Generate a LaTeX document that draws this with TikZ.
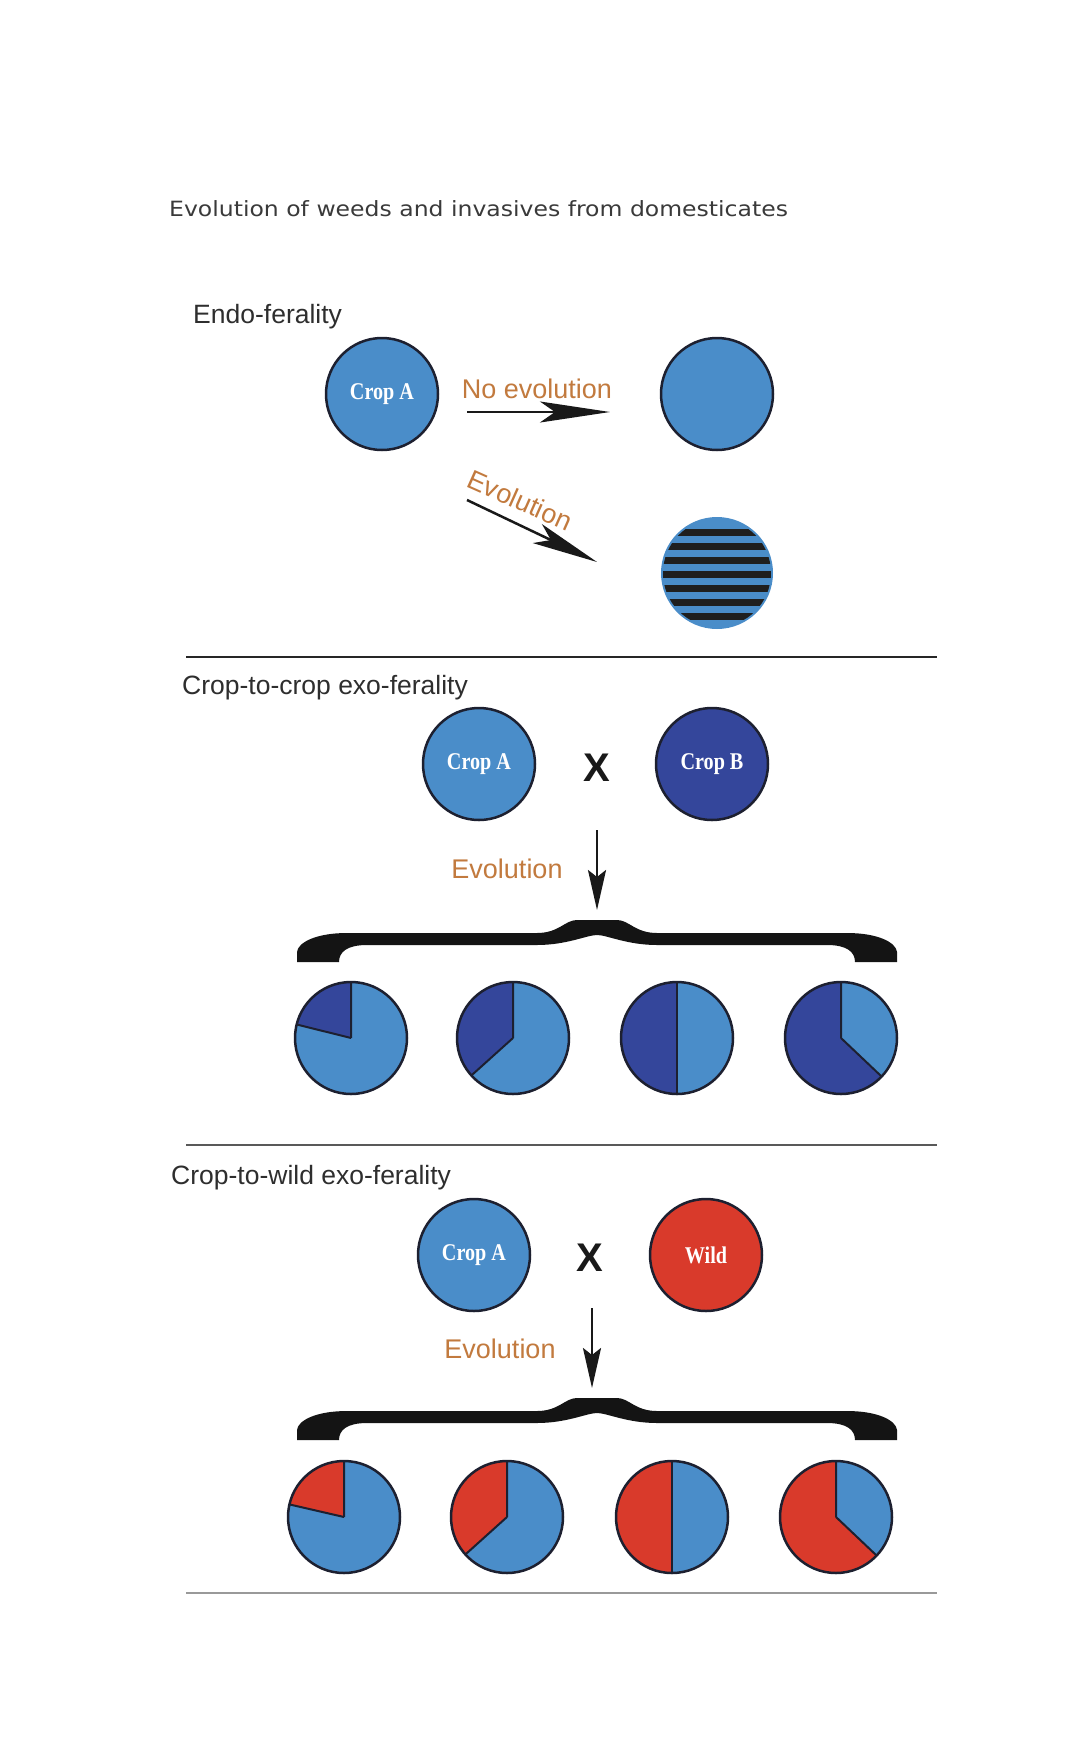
\documentclass[tikz,border=0pt]{standalone}
\usepackage{fontspec}
\usepackage{graphicx}
\setmainfont{Liberation Sans}
\newfontfamily\titlefont{DejaVu Sans}
\newfontfamily\cropfont{Liberation Serif}
\usetikzlibrary{arrows.meta}

\definecolor{lblue}{HTML}{4A8DC9}
\definecolor{dblue}{HTML}{34469B}
\definecolor{wred}{HTML}{D93A2B}
\definecolor{evo}{HTML}{C27A3E}
\definecolor{rim}{HTML}{1D2030}
\definecolor{titlegray}{HTML}{3A3A3A}
\definecolor{labgray}{HTML}{2E2E2E}

\newcommand\cname[1]{\scalebox{0.84}[1]{#1}}
\newcommand\piechart[5]{%
  \node[circle, minimum size=112pt, inner sep=0pt, fill=lblue] (#1) at (#2,#3) {};
  \fill[#4] (#1.center) -- ++(90:56) arc[start angle=90,end angle=#5,radius=56] -- cycle;
  \draw[rim, line width=2pt] (#1.center) -- ++(90:56) (#1.center) -- ++(#5:56);
  \draw[rim, line width=2.5pt] (#1.center) circle[radius=56];
}
\newcommand\bracepath{%
  (-20,0) -- (20,0) .. controls (32,0) and (38,-13) .. (60,-13) -- (250,-13)
  .. controls (280,-13) and (299,-22) .. (300,-32) -- (300,-42) -- (258,-42)
  .. controls (258,-32) and (250,-25) .. (230,-25) -- (60,-25)
  .. controls (30,-25) and (10,-15) .. (0,-15)
  .. controls (-10,-15) and (-30,-25) .. (-60,-25) -- (-230,-25)
  .. controls (-250,-25) and (-258,-32) .. (-258,-42) -- (-300,-42) -- (-300,-32)
  .. controls (-299,-22) and (-280,-13) .. (-250,-13) -- (-60,-13)
  .. controls (-38,-13) and (-32,0) .. (-20,0) -- cycle}

\begin{document}
\begin{tikzpicture}[x=1pt,y=1pt,
  disc/.style={circle, minimum size=112pt, inner sep=0pt, draw=rim, line width=2.5pt},
  cropname/.style={text=white, font=\cropfont\bfseries\fontsize{24}{24}\selectfont},
  seclabel/.style={anchor=base west, inner sep=0pt, text=labgray, font=\fontsize{26.5}{30}\selectfont},
  evolabel/.style={inner sep=0pt, text=evo, font=\fontsize{27}{30}\selectfont},
  crossmark/.style={inner sep=0pt, text=black!90, font=\bfseries\fontsize{40}{40}\selectfont},
  longarrow/.style={line width=2.5pt, draw=black!90, -{Stealth[length=70pt, width=21pt, inset=15pt]}},
  downarrow/.style={line width=2.5pt, draw=black!90, -{Stealth[length=40pt, width=18pt, inset=7pt]}},
  bracefill/.style={fill=black!92},
  sep/.style={line width=2.5pt}
]
\fill[white] (0,0) rectangle (1080,-1754);
\useasboundingbox (0,0) rectangle (1080,-1754);

% title
\node[anchor=base west, inner sep=0pt, text=titlegray, font=\titlefont\fontsize{21}{24}\selectfont] (title) at (169,-216)
  {\scalebox{1.12}[1]{Evolution of weeds and invasives from domesticates}};

% ---------- Endo-ferality
\node[seclabel] (endo) at (193,-323) {Endo-ferality};
\node[disc, fill=lblue] (cropA1) at (382,-394) {};
\node[cropname] at (cropA1) {\cname{Crop A}};
\node[disc, fill=lblue] (plain1) at (717,-394) {};
\node[circle, minimum size=112pt, inner sep=0pt, fill=lblue] (striped1) at (717,-573) {};
\begin{scope}
  \clip (striped1.center) circle[radius=54];
  \foreach \k in {0,...,6}{
    \fill[black!88] (650,{-528.5-14*\k}) rectangle (790,{-536-14*\k});
  }
\end{scope}

\node[evolabel, anchor=base] (noevo) at (537,-398) {No evolution};
\coordinate (h1s) at (467,-412);
\coordinate (h1e) at (610,-412);
\draw[longarrow] (h1s) -- (h1e);

\node[evolabel, rotate=-24] (evo1) at (520,-500) {Evolution};
\coordinate (d1s) at (467,-500);
\coordinate (d1e) at (597,-562);
\draw[longarrow, -{Stealth[length=66pt, width=21pt, inset=15pt]}] (d1s) -- (d1e);

\draw[sep, draw=black!85] (186,-657) -- (937,-657);

% ---------- Crop-to-crop
\node[seclabel] (c2c) at (182,-694) {Crop-to-crop exo-ferality};
\node[disc, fill=lblue] (cropA2) at (479,-764) {};
\node[cropname] at (cropA2) {\cname{Crop A}};
\node[crossmark] (x2) at (597,-768) {X};
\node[disc, fill=dblue] (cropB2) at (712,-764) {};
\node[cropname] at (cropB2) {\cname{Crop B}};

\node[evolabel, anchor=base] (evo2) at (507,-878) {Evolution};
\coordinate (v2s) at (597,-830);
\coordinate (v2e) at (597,-910);
\draw[downarrow] (v2s) -- (v2e);

\begin{scope}[shift={(597,-920)}]
  \fill[bracefill] \bracepath;
\end{scope}

\piechart{p21}{351}{-1038}{dblue}{166}
\piechart{p22}{513}{-1038}{dblue}{222}
\piechart{p23}{677}{-1038}{dblue}{270}
\piechart{p24}{841}{-1038}{dblue}{316.5}

\draw[sep, draw=black!65] (186,-1145) -- (937,-1145);

% ---------- Crop-to-wild
\node[seclabel] (c2w) at (171,-1184) {Crop-to-wild exo-ferality};
\node[disc, fill=lblue] (cropA3) at (474,-1255) {};
\node[cropname] at (cropA3) {\cname{Crop A}};
\node[crossmark] (x3) at (590,-1258) {X};
\node[disc, fill=wred] (wild3) at (706,-1255) {};
\node[cropname] at (wild3) {\cname{Wild}};

\node[evolabel, anchor=base] (evo3) at (500,-1358) {Evolution};
\coordinate (v3s) at (592,-1308);
\coordinate (v3e) at (592,-1388);
\draw[downarrow] (v3s) -- (v3e);

\begin{scope}[shift={(597,-1398)}]
  \fill[bracefill] \bracepath;
\end{scope}

\piechart{p31}{344}{-1517}{wred}{167}
\piechart{p32}{507}{-1517}{wred}{222}
\piechart{p33}{672}{-1517}{wred}{270}
\piechart{p34}{836}{-1517}{wred}{316.5}

\draw[sep, draw=black!40] (186,-1593) -- (937,-1593);
\end{tikzpicture}
\end{document}
